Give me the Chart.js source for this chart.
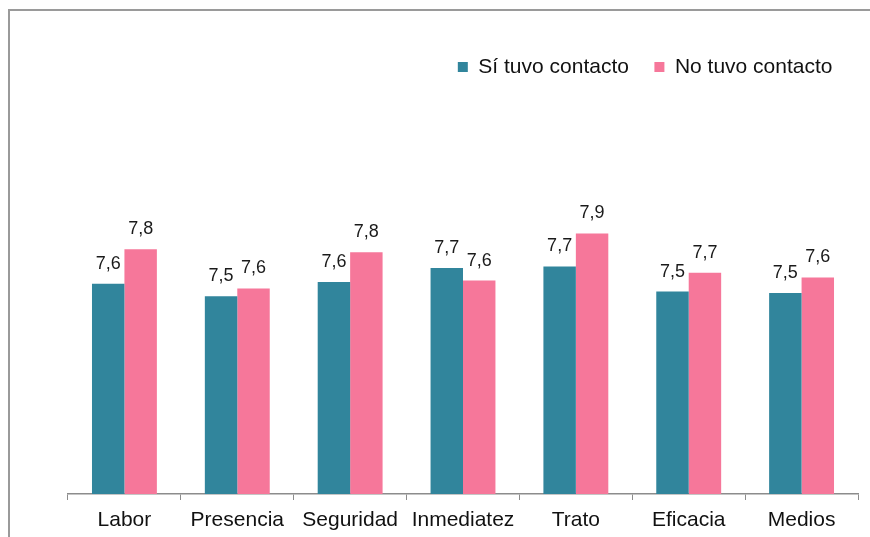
<!DOCTYPE html>
<html>
<head>
<meta charset="utf-8">
<script src="https://cdn.jsdelivr.net/npm/chart.js@4.4.1/dist/chart.umd.min.js"></script>
<style>
  html, body { margin: 0; padding: 0; background: #fff; overflow: hidden; }
  #wrap { position: relative; width: 870px; height: 537px; overflow: hidden; }
  #frame { position: absolute; left: 8px; top: 9px; width: 900px; height: 600px;
           border-top: 2px solid #9a9a9a; border-left: 2px solid #9a9a9a; box-sizing: border-box; }
  canvas { position: absolute; left: 0; top: 0; }
</style>
</head>
<body>
<div id="wrap">
  <div id="frame"></div>
  <canvas id="c" width="870" height="541"></canvas>
</div>
<script>
const categories = ['Labor', 'Presencia', 'Seguridad', 'Inmediatez', 'Trato', 'Eficacia', 'Medios'];
const seriesNames = ['Sí tuvo contacto', 'No tuvo contacto'];
const siContacto = [7.59, 7.51, 7.60, 7.69, 7.70, 7.54, 7.53];
const noContacto = [7.81, 7.56, 7.79, 7.61, 7.91, 7.66, 7.63];

const valueLabels = {
  id: 'valueLabels',
  afterDatasetsDraw(chart) {
    const ctx = chart.ctx;
    ctx.save();
    ctx.font = '18px "Liberation Sans", Arial, sans-serif';
    ctx.fillStyle = '#1a1a1a';
    ctx.textAlign = 'center';
    ctx.textBaseline = 'alphabetic';
    chart.data.datasets.forEach((ds, i) => {
      const meta = chart.getDatasetMeta(i);
      meta.data.forEach((bar, j) => {
        const txt = ds.data[j].toFixed(1).replace('.', ',');
        ctx.fillText(txt, bar.x, bar.y - 15);
      });
    });
    ctx.restore();
  }
};

new Chart(document.getElementById('c'), {
  type: 'bar',
  data: {
    labels: categories,
    datasets: [
      { label: seriesNames[0], data: siContacto, backgroundColor: '#31859C', borderWidth: 0 },
      { label: seriesNames[1], data: noContacto, backgroundColor: '#F6779A', borderWidth: 0 }
    ]
  },
  options: {
    responsive: false,
    animation: false,
    devicePixelRatio: 1,
    layout: { padding: { left: 68, right: 12, top: 31, bottom: 0 } },
    datasets: { bar: { categoryPercentage: 0.575, barPercentage: 1.0 } },
    plugins: {
      legend: {
        position: 'top',
        align: 'end',
        labels: {
          boxWidth: 10,
          boxHeight: 10,
          padding: 25.5,
          color: '#111',
          font: { family: '"Liberation Sans", Arial, sans-serif', size: 21 }
        }
      },
      tooltip: { enabled: false },
      title: { display: false }
    },
    scales: {
      x: {
        offset: true,
        grid: { display: true, drawOnChartArea: false, drawTicks: true, tickLength: 6, color: '#8c8c8c', offset: true },
        border: { display: true, color: '#8c8c8c', width: 1.5 },
        ticks: { color: '#111', padding: 10, font: { family: '"Liberation Sans", Arial, sans-serif', size: 21, lineHeight: 1.0 } }
      },
      y: {
        display: false,
        min: 6.25,
        max: 8.84
      }
    }
  },
  plugins: [valueLabels]
});
</script>
</body>
</html>
